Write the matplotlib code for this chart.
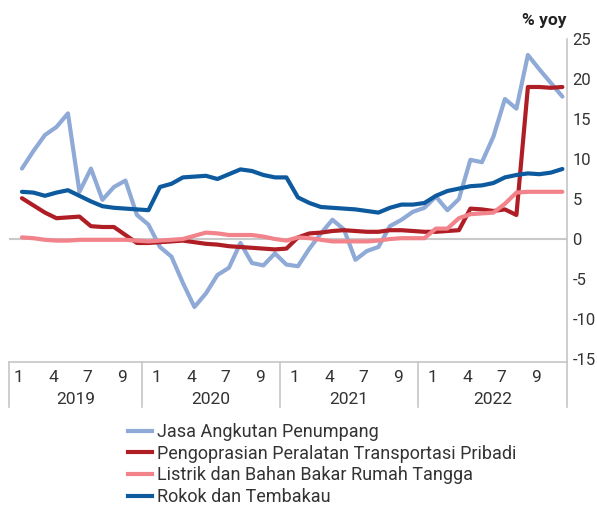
import matplotlib
matplotlib.use("Agg")
import matplotlib.pyplot as plt
from matplotlib.lines import Line2D

plt.rcParams['font.family'] = ['Roboto', 'DejaVu Sans']
plt.rcParams['axes.unicode_minus'] = False

# monthly data, Jan 2019 - Dec 2022 (% yoy)
years = ['2019', '2020', '2021', '2022']
month_labels = ['1', '4', '7', '9']

jasa_angkutan = [8.8, 11.0, 13.0, 14.0, 15.7, 5.9, 8.8, 4.9, 6.5, 7.3, 3.0, 1.8,
                 -1.0, -2.2, -5.5, -8.5, -6.8, -4.5, -3.6, -0.5, -3.0, -3.3, -1.8, -3.2,
                 -3.4, -1.2, 0.7, 2.4, 1.2, -2.6, -1.5, -1.0, 1.6, 2.4, 3.4, 3.9,
                 5.3, 3.6, 5.0, 9.9, 9.6, 12.8, 17.5, 16.3, 23.0, 21.2, 19.5, 17.8]
pengoprasian = [5.1, 4.2, 3.3, 2.6, 2.7, 2.8, 1.6, 1.5, 1.5, 0.5, -0.5, -0.5,
                -0.4, -0.3, -0.2, -0.4, -0.6, -0.7, -0.9, -1.0, -1.1, -1.2, -1.3, -1.2,
                0.2, 0.7, 0.8, 1.0, 1.1, 1.0, 0.9, 0.9, 1.1, 1.1, 1.0, 0.9,
                0.9, 1.0, 1.1, 3.8, 3.7, 3.5, 3.7, 3.0, 19.0, 19.0, 18.9, 19.0]
listrik = [0.2, 0.1, -0.1, -0.2, -0.2, -0.1, -0.1, -0.1, -0.1, -0.1, -0.2, -0.3,
           -0.2, -0.1, 0.0, 0.4, 0.8, 0.7, 0.5, 0.5, 0.5, 0.3, 0.0, -0.2,
           0.2, 0.1, -0.1, -0.3, -0.3, -0.3, -0.3, -0.2, 0.0, 0.1, 0.1, 0.1,
           1.3, 1.3, 2.6, 3.1, 3.2, 3.3, 4.4, 5.8, 5.9, 5.9, 5.9, 5.9]
rokok = [5.9, 5.8, 5.4, 5.8, 6.1, 5.4, 4.7, 4.1, 3.9, 3.8, 3.7, 3.6,
         6.5, 6.9, 7.7, 7.8, 7.9, 7.5, 8.1, 8.7, 8.5, 8.0, 7.7, 7.7,
         5.2, 4.5, 4.0, 3.9, 3.8, 3.7, 3.5, 3.3, 3.9, 4.3, 4.3, 4.5,
         5.4, 6.0, 6.3, 6.6, 6.7, 7.0, 7.7, 8.0, 8.2, 8.1, 8.3, 8.75]

series = [
    ('Jasa Angkutan Penumpang', jasa_angkutan, '#8FAAD6'),
    ('Pengoprasian Peralatan Transportasi Pribadi', pengoprasian, '#B01E25'),
    ('Listrik dan Bahan Bakar Rumah Tangga', listrik, '#F2838B'),
    ('Rokok dan Tembakau', rokok, '#0D5A9E'),
]

fig = plt.figure(figsize=(5.97, 5.07), dpi=100)
ax = fig.add_axes([9.3 / 597, 1 - 362 / 507, (567 - 9.3) / 597, 323 / 507])

x = list(range(len(rokok)))
ax.axhline(0, color='#C9C9C9', lw=1.5, zorder=1)
handles = []
for name, vals, col in series:
    ax.plot(x, vals, color=col, lw=3.0, solid_capstyle='round', solid_joinstyle='round', zorder=2)
    handles.append(Line2D([0], [0], color=col, lw=3.0, label=name))

xmin, xmax = -1.1, 47.4
ax.set_xlim(xmin, xmax)
ax.set_ylim(-15.375, 25)

ax.yaxis.tick_right()
ax.set_yticks(range(-15, 26, 5))
ax.tick_params(axis='y', length=0, pad=4, labelsize=12, labelcolor='#333333')
ax.set_xticks([])
for s in ['top', 'left']:
    ax.spines[s].set_visible(False)
for s in ['right', 'bottom']:
    ax.spines[s].set_color('#C6C6C6')
    ax.spines[s].set_linewidth(1.2)

ax.text(1.0, 1.035, '% yoy', transform=ax.transAxes, ha='right', va='bottom',
        fontsize=12.5, fontweight='bold', color='#222222')

# two-level category axis
trans = ax.get_xaxis_transform()
px = 1 / 323
bounds = [xmin] + [12 * k - 1.6 for k in range(1, len(years))] + [xmax]
for b in bounds:
    ax.plot([b, b], [0, -45 * px], transform=trans, color='#C6C6C6', lw=1.2, clip_on=False)
for i, yr in enumerate(years):
    for j, m in enumerate(month_labels):
        ax.text(12 * i + 3 * j - 0.3, -15 * px, m, transform=trans, ha='center', va='center',
                fontsize=12.5, color='#333333')
    ax.text((bounds[i] + bounds[i + 1]) / 2, -38 * px, yr, transform=trans, ha='center',
            va='center', fontsize=12.5, color='#333333')

fig.legend(handles=handles, loc='upper left', bbox_to_anchor=(119 / 597, 1 - 414 / 507),
           frameon=False, fontsize=13, handlelength=1.3, handletextpad=0.3,
           labelspacing=0.2, labelcolor='#333333', borderpad=0)

fig.savefig('out.png', dpi=100)
